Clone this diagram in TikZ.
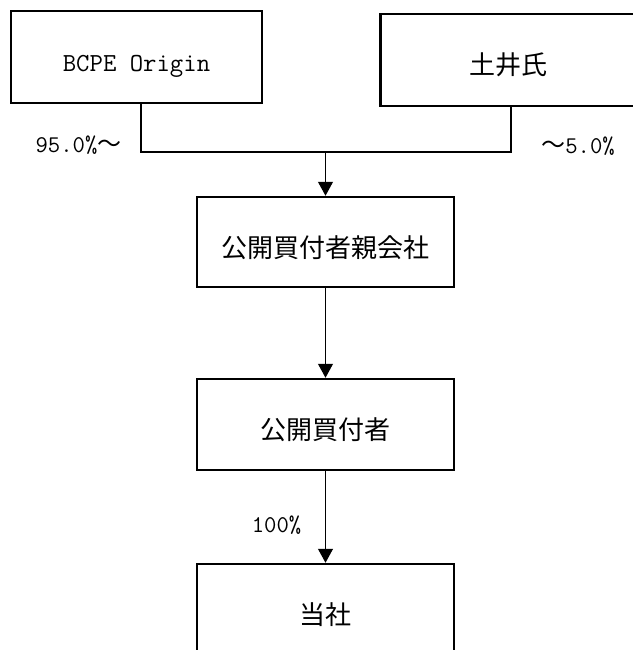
\documentclass[tikz,border=0pt]{standalone}
\usepackage{fontspec}
\newfontfamily\jp{Noto Sans CJK JP}
\usetikzlibrary{arrows.meta}

\begin{document}
\begin{tikzpicture}[x=1pt,y=-1pt]

      \useasboundingbox (0,0) rectangle (632,650);

      \begin{scope}[every node/.style={draw, line width=2.5pt, inner sep=0pt,
          minimum width=257pt, minimum height=91pt,
          font=\fontsize{26}{30}\selectfont, text height=30pt, text depth=0pt}]
        \node[minimum width=251pt, minimum height=92pt] (bcpe) at (136.5,57) {\ttfamily BCPE Origin};
        \node[minimum width=256pt, minimum height=92pt] (doi)  at (508.5,60) {\jp 土井氏};
        \node[minimum height=90pt] (parent) at (325.5,242)   {\jp 公開買付者親会社};
        \node (bidder)  at (325.5,424.5) {\jp 公開買付者};
        \node (company) at (325.5,609.5) {\jp 当社};
      \end{scope}

      \coordinate (join) at (325.5,152);

      \begin{scope}[every node/.style={inner sep=0pt, font=\fontsize{24}{28}\selectfont\ttfamily}]
        \node (bcpeshare) at (78.5,145) {95.0\%{\jp 〜}};
        \node (doishare)  at (578,146)  {{\jp 〜}5.0\%};
        \node (bidshare)  at (276.5,525) {100\%};
      \end{scope}

      \begin{scope}[line width=1.2pt]
        \draw ([xshift=4.5pt]bcpe.south) |- (join);
        \draw ([xshift=2.5pt]doi.south) |- (join);
        \draw[-{Triangle[width=15pt,length=14pt]}] (join) -- (parent.north);
        \draw[-{Triangle[width=15pt,length=14pt]}] (parent) -- (bidder);
        \draw[-{Triangle[width=15pt,length=14pt]}] (bidder) -- (company);
      \end{scope}

    \end{tikzpicture}
\end{document}
